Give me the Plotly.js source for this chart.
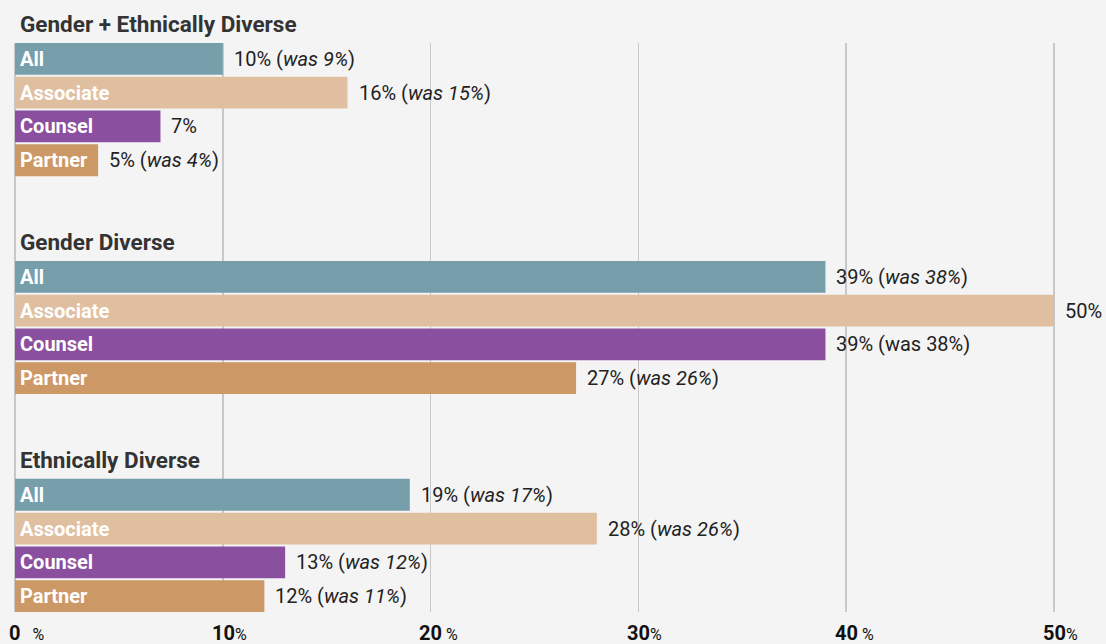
<!DOCTYPE html>
<html>
<head>
<meta charset="utf-8">
<script src="https://cdn.plot.ly/plotly-3.0.1.min.js"></script>
<style>
  html, body { margin: 0; padding: 0; background: #f4f4f4; }
  #chart { width: 1106px; height: 644px; }
</style>
</head>
<body>
<div id="chart"></div>
<script>
// ---- data ----
const groups = ["Gender + Ethnically Diverse", "Gender Diverse", "Ethnically Diverse"];
const levels = ["All", "Associate", "Counsel", "Partner"];
const genderEthnicValues = [10, 16, 7, 4];
const genderValues = [39, 50, 39, 27];
const ethnicValues = [19, 28, 13, 12];
const genderEthnicLabels = ["10% (<i>was 9%</i>)", "16% (<i>was 15%</i>)", "7%", "5% (<i>was 4%</i>)"];
const genderLabels = ["39% (<i>was 38%</i>)", "50%", "39% (was 38%)", "27% (<i>was 26%</i>)"];
const ethnicLabels = ["19% (<i>was 17%</i>)", "28% (<i>was 26%</i>)", "13% (<i>was 12%</i>)", "12% (<i>was 11%</i>)"];
const tickValues = [0, 10, 20, 30, 40, 50];
const tickNumbers = ["0", "10", "20", "30", "40", "50"];
const tickSuffixes = ["\u00a0\u00a0\u00a0%", "%", "\u00a0%", "%", "\u00a0%", "%"];

// ---- styling ----
const levelColors = ["#779fab", "#e0bfa0", "#8a4f9e", "#cc9866"];
const groupStep = 6.45;
const barWidth = 0.94;

const groupValues = [genderEthnicValues, genderValues, ethnicValues];
const groupLabels = [genderEthnicLabels, genderLabels, ethnicLabels];

const traces = [];
const annotations = [];

levels.forEach((lvl, li) => {
  const xs = [], ys = [];
  groups.forEach((g, gi) => {
    xs.push(groupValues[gi][li]);
    ys.push(gi * groupStep + li);
  });
  traces.push({
    type: "bar",
    orientation: "h",
    x: xs,
    y: ys,
    width: barWidth,
    marker: { color: levelColors[li], line: { width: 0 } },
    name: lvl,
    hoverinfo: "skip",
    showlegend: false
  });
});

groups.forEach((g, gi) => {
  annotations.push({
    x: 0, y: gi * groupStep, xref: "x", yref: "y",
    xanchor: "left", yanchor: "middle", xshift: 3, yshift: 35,
    text: "<b>" + g + "</b>", showarrow: false,
    font: { family: "Roboto", size: 22.5, color: "#333333" }
  });
  levels.forEach((lvl, li) => {
    const y = gi * groupStep + li;
    annotations.push({
      x: 0, y: y, xref: "x", yref: "y",
      xanchor: "left", yanchor: "middle", xshift: 3,
      text: "<b>" + lvl + "</b>", showarrow: false,
      font: { family: "Roboto", size: 20, color: "#ffffff" }
    });
    annotations.push({
      x: groupValues[gi][li], y: y, xref: "x", yref: "y",
      xanchor: "left", yanchor: "middle", xshift: 9,
      text: groupLabels[gi][li], showarrow: false,
      font: { family: "Roboto", size: 20, color: "#222222" }
    });
  });
});

tickValues.forEach((v, i) => {
  annotations.push({
    x: v, y: 0, xref: "x", yref: "paper",
    xanchor: "left", yanchor: "middle",
    xshift: -(tickNumbers[i].length * 5.6) - 2, yshift: -21,
    text: "<b>" + tickNumbers[i] + "</b><span style='font-size:16px'>" + tickSuffixes[i] + "</span>",
    showarrow: false,
    font: { family: "Roboto", size: 20, color: "#111111" }
  });
});

const layout = {
  width: 1106, height: 644,
  margin: { l: 15, r: 0, t: 43, b: 32, pad: 0 },
  paper_bgcolor: "#f4f4f4",
  plot_bgcolor: "#f4f4f4",
  barmode: "overlay",
  showlegend: false,
  xaxis: {
    range: [0, 52.5],
    tickvals: tickValues,
    showticklabels: false,
    showgrid: true,
    gridcolor: "#c8c8c8",
    gridwidth: 1.5,
    zeroline: true,
    zerolinecolor: "#c8c8c8",
    zerolinewidth: 1.5,
    ticks: "",
    fixedrange: true
  },
  yaxis: {
    range: [2 * groupStep + 3 + 0.47, -0.47],
    showticklabels: false,
    showgrid: false,
    zeroline: false,
    ticks: "",
    fixedrange: true
  },
  annotations: annotations,
  font: { family: "Roboto" }
};

Plotly.newPlot("chart", traces, layout, { displayModeBar: false, staticPlot: true });
</script>
</body>
</html>
